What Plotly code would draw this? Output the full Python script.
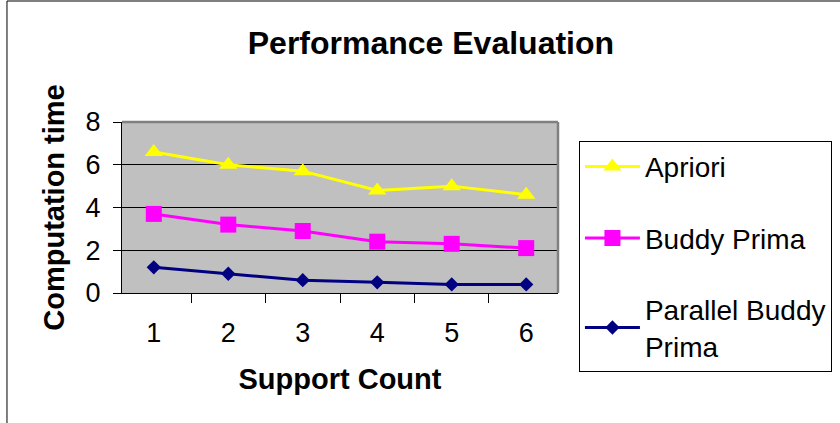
import plotly.graph_objects as go

categories = ["1", "2", "3", "4", "5", "6"]
apriori = [6.6, 6.0, 5.7, 4.8, 5.0, 4.6]
buddy_prima = [3.7, 3.2, 2.9, 2.4, 2.3, 2.1]
parallel_buddy_prima = [1.2, 0.9, 0.6, 0.5, 0.4, 0.4]
y_ticks = [0, 2, 4, 6, 8]

FONT = "Arial, Liberation Sans, sans-serif"

fig = go.Figure()
fig.add_trace(go.Scatter(x=categories, y=apriori, name="Apriori", mode="lines+markers",
                         line=dict(color="#FFFF00", width=3),
                         marker=dict(symbol="triangle-up", size=16, color="#FFFF00"),
                         legendgroup="a"))
fig.add_trace(go.Scatter(x=categories, y=buddy_prima, name="Buddy Prima", mode="lines+markers",
                         line=dict(color="#FF00FF", width=3),
                         marker=dict(symbol="square", size=16, color="#FF00FF"),
                         legendgroup="b"))
fig.add_trace(go.Scatter(x=categories, y=parallel_buddy_prima, name="Parallel Buddy<br>Prima",
                         mode="lines+markers",
                         line=dict(color="#000080", width=3),
                         marker=dict(symbol="diamond", size=11, color="#000080"),
                         legendgroup="c"))

fig.update_layout(
    width=840, height=423,
    margin=dict(l=122, r=282, t=122, b=130, autoexpand=False),
    paper_bgcolor="white",
    plot_bgcolor="#C0C0C0",
    font=dict(family=FONT, color="black", size=27),
    title=dict(text="<b>Performance Evaluation</b>", x=0.513, xref="container",
               y=0.898, yanchor="middle", xanchor="center",
               font=dict(size=32, family=FONT, color="black")),
    legend=dict(x=1.048, y=0.89, xanchor="left", yanchor="top",
                bordercolor="black", borderwidth=1, bgcolor="white",
                font=dict(size=28, family=FONT, color="black"),
                tracegroupgap=32, itemwidth=55, maxheight=400),
    showlegend=True,
)

fig.update_xaxes(
    type="category", tickson="boundaries", ticks="outside", ticklen=9, tickcolor="black",
    showline=True, linecolor="black", linewidth=1, showgrid=False, automargin=False,
    tickfont=dict(size=27, family=FONT), ticklabelstandoff=16,
    title=dict(text="<b>Support Count</b>", font=dict(size=29, family=FONT), standoff=21),
)
fig.update_yaxes(
    range=[0, 8], tickvals=y_ticks, ticks="outside", ticklen=8, tickcolor="black",
    showline=True, linecolor="black", linewidth=1, automargin=False,
    showgrid=True, gridcolor="black", gridwidth=1, zeroline=False,
    tickfont=dict(size=27, family=FONT), ticklabelstandoff=7,
    title=dict(text="<b>Computation time</b>", font=dict(size=29, family=FONT), standoff=12),
)

# gray plot-area border (top and right)
fig.add_shape(type="line", xref="paper", yref="paper", x0=0, x1=1, y0=1, y1=1,
              line=dict(color="#808080", width=2.5), layer="above")
fig.add_shape(type="line", xref="paper", yref="paper", x0=1, x1=1, y0=0, y1=1,
              line=dict(color="#808080", width=2.5), layer="above")
# outer chart frame
fig.add_shape(type="rect", xref="paper", yref="paper", x0=-0.2638, x1=1.7, y0=-0.9, y1=1.7076,
              line=dict(color="black", width=1), layer="below")

fig.write_html("out.html", config={"displayModeBar": False},
               post_script="document.body.style.margin='0';document.body.style.overflow='hidden';")
